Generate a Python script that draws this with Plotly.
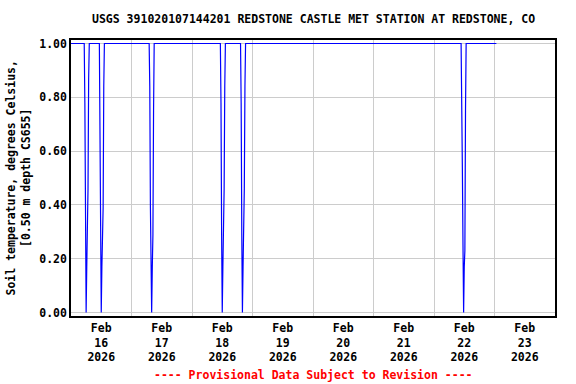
import plotly.graph_objects as go

# ---- data ----
times = [
    "2026-02-16 00:00",
    # dip 1
    "2026-02-16 05:15", "2026-02-16 05:30", "2026-02-16 05:45", "2026-02-16 06:00",
    "2026-02-16 06:15", "2026-02-16 06:30", "2026-02-16 06:45", "2026-02-16 07:00", "2026-02-16 07:15",
    # dip 2
    "2026-02-16 11:15", "2026-02-16 11:30", "2026-02-16 11:45", "2026-02-16 12:00",
    "2026-02-16 12:15", "2026-02-16 12:30", "2026-02-16 12:45", "2026-02-16 13:00", "2026-02-16 13:15",
    # dip 3
    "2026-02-17 07:00", "2026-02-17 07:15", "2026-02-17 07:30", "2026-02-17 07:45", "2026-02-17 08:00",
    "2026-02-17 08:15", "2026-02-17 08:30", "2026-02-17 08:45", "2026-02-17 09:00",
    # dip 4
    "2026-02-18 11:15", "2026-02-18 11:30", "2026-02-18 11:45", "2026-02-18 12:00",
    "2026-02-18 12:15", "2026-02-18 12:30", "2026-02-18 12:45", "2026-02-18 13:00", "2026-02-18 13:15",
    # dip 5
    "2026-02-18 19:15", "2026-02-18 19:30", "2026-02-18 19:45", "2026-02-18 20:00",
    "2026-02-18 20:15", "2026-02-18 20:30", "2026-02-18 20:45", "2026-02-18 21:00", "2026-02-18 21:15",
    # dip 6
    "2026-02-22 10:45", "2026-02-22 11:00", "2026-02-22 11:15", "2026-02-22 11:30", "2026-02-22 11:45",
    "2026-02-22 12:00", "2026-02-22 12:15", "2026-02-22 12:30", "2026-02-22 12:45",
    "2026-02-23 00:45",
]
values = [
    1.00,
    1.00, 0.78, 0.29, 0.00, 0.17, 0.29, 0.46, 0.87, 1.00,
    1.00, 0.75, 0.29, 0.00, 0.17, 0.25, 0.39, 0.84, 1.00,
    1.00, 0.84, 0.39, 0.25, 0.00, 0.17, 0.29, 0.75, 1.00,
    1.00, 0.78, 0.29, 0.00, 0.17, 0.29, 0.46, 0.84, 1.00,
    1.00, 0.78, 0.29, 0.00, 0.17, 0.29, 0.46, 0.84, 1.00,
    1.00, 0.84, 0.54, 0.25, 0.00, 0.17, 0.23, 0.75, 1.00,
    1.00,
]

x_label_pos = ["2026-02-16 12:00", "2026-02-17 12:00", "2026-02-18 12:00", "2026-02-19 12:00",
               "2026-02-20 12:00", "2026-02-21 12:00", "2026-02-22 12:00", "2026-02-23 12:00"]
x_labels = ["Feb<br>16<br>2026", "Feb<br>17<br>2026", "Feb<br>18<br>2026", "Feb<br>19<br>2026",
            "Feb<br>20<br>2026", "Feb<br>21<br>2026", "Feb<br>22<br>2026", "Feb<br>23<br>2026"]
x_grid_pos = ["2026-02-16 00:00", "2026-02-17 00:00", "2026-02-18 00:00", "2026-02-19 00:00",
              "2026-02-20 00:00", "2026-02-21 00:00", "2026-02-22 00:00", "2026-02-23 00:00"]
y_tick_vals = [0.0, 0.2, 0.4, 0.6, 0.8, 1.0]
y_tick_text = ["0.00", "0.20", "0.40", "0.60", "0.80", "1.00"]

title_text = "USGS 391020107144201 REDSTONE CASTLE MET STATION AT REDSTONE, CO"
y_title = "Soil temperature, degrees Celsius,<br>[0.50 m depth CS655]"
footer = "---- Provisional Data Subject to Revision ----"

FONT = "DejaVu Sans Mono"

fig = go.Figure()
fig.add_trace(go.Scatter(x=times, y=values, mode="lines",
                         line=dict(color="#0000ff", width=1.2), hoverinfo="skip"))

fig.update_layout(
    width=576, height=384,
    margin=dict(l=71, r=21, t=40, b=68),
    paper_bgcolor="white", plot_bgcolor="white",
    showlegend=False,
    font=dict(family=FONT, size=11.5, color="black", weight="bold"),
)

fig.update_xaxes(
    type="date",
    range=["2026-02-16 00:00", "2026-02-24 00:00"],
    tickmode="array", tickvals=x_label_pos, ticktext=x_labels,
    ticks="", showgrid=False, zeroline=False,
    minor=dict(tickmode="array", tickvals=x_grid_pos, showgrid=True,
               gridcolor="#cccccc", gridwidth=1, ticks=""),
    showline=True, mirror=True, linecolor="black", linewidth=1.5,
    tickfont=dict(family=FONT, size=11.5, color="black", weight="bold"),
)
fig.update_yaxes(
    range=[-0.013, 1.013],
    tickmode="array", tickvals=y_tick_vals, ticktext=y_tick_text,
    ticks="", showgrid=True, gridcolor="#cccccc", gridwidth=1, zeroline=False,
    showline=True, mirror=True, linecolor="black", linewidth=1.5,
    tickfont=dict(family=FONT, size=11.5, color="black", weight="bold"),
)

fig.add_annotation(text=title_text, xref="paper", yref="paper", x=0.5, y=1.076,
                   xanchor="center", yanchor="middle", showarrow=False,
                   font=dict(family=FONT, size=11.5, color="black", weight="bold"))
fig.add_annotation(text=y_title, xref="paper", yref="paper", x=-0.1085, y=0.5,
                   xanchor="center", yanchor="middle", showarrow=False, textangle=-90,
                   font=dict(family=FONT, size=11.5, color="black", weight="bold"))
fig.add_annotation(text=footer, xref="paper", yref="paper", x=0.5, y=-0.2138,
                   xanchor="center", yanchor="middle", showarrow=False,
                   font=dict(family=FONT, size=11.5, color="#ff0000", weight="bold"))

fig.write_html("out.html", config={"displayModeBar": False},
               post_script="document.body.style.margin='0';document.body.style.padding='0';")
